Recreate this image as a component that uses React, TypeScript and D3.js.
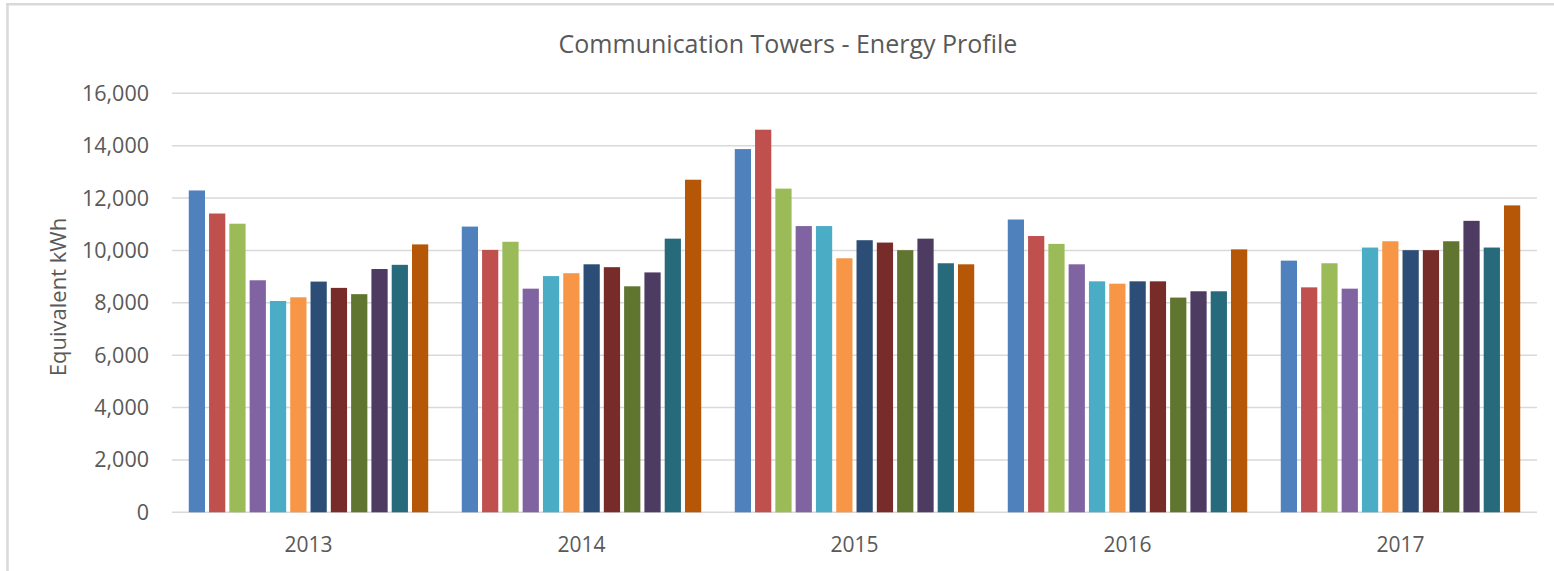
import React, { useEffect } from 'react'
import * as d3 from 'd3'

// years on the x axis, one cluster each
const years = ['2013', '2014', '2015', '2016', '2017']
// twelve bars per year (months)
const months = ['Jan', 'Feb', 'Mar', 'Apr', 'May', 'Jun', 'Jul', 'Aug', 'Sep', 'Oct', 'Nov', 'Dec']

const kwh2013 = [12290, 11410, 11020, 8860, 8070, 8210, 8810, 8570, 8330, 9290, 9450, 10230]
const kwh2014 = [10910, 10020, 10330, 8540, 9020, 9130, 9470, 9360, 8630, 9160, 10450, 12700]
const kwh2015 = [13870, 14610, 12360, 10930, 10930, 9700, 10390, 10300, 10010, 10450, 9510, 9470]
const kwh2016 = [11180, 10550, 10250, 9470, 8820, 8730, 8820, 8820, 8200, 8440, 8440, 10040]
const kwh2017 = [9610, 8590, 9510, 8540, 10110, 10350, 10010, 10010, 10350, 11130, 10110, 11720]

const yTicks = [0, 2000, 4000, 6000, 8000, 10000, 12000, 14000, 16000]

const colors = ['#4F81BD', '#C0504D', '#9BBB59', '#8064A2', '#4BACC6', '#F79646',
  '#2C4D75', '#772C2A', '#5F7530', '#4D3B62', '#276A7C', '#B65708']

const W = 1554
const H = 571
const left = 172
const right = 1537
const top = 93.3
const bottom = 512.3
const textColor = '#595959'
const font = '"Open Sans", sans-serif'

const App = () => {
  useEffect(() => {
    document.body.style.margin = '0'
  }, [])

  const rows = [kwh2013, kwh2014, kwh2015, kwh2016, kwh2017]

  const x0 = d3.scaleBand().domain(years).range([left, right]).paddingInner(0.108).paddingOuter(0.054)
  const x1 = d3.scaleBand().domain(months).range([0, x0.bandwidth()]).paddingInner(0.2).paddingOuter(0.1)
  const y = d3.scaleLinear().domain([0, 16000]).range([bottom, top])
  const fmt = d3.format(',')

  return (
    <svg width={W} height={H} style={{ position: 'absolute', left: 0, top: 0, background: '#fff' }}>
      {/* chart frame */}
      <line x1={7.5} x2={7.5} y1={3} y2={H} stroke="#d9d9d9" strokeWidth={2.5} />
      <line x1={6} x2={W} y1={4.3} y2={4.3} stroke="#d9d9d9" strokeWidth={2.5} />

      <text x={788} y={53} textAnchor="middle" fontFamily={font} fontSize={25} fill={textColor}>
        Communication Towers - Energy Profile
      </text>

      {/* gridlines */}
      <g>
        {yTicks.map(t => (
          <line key={t} x1={left} x2={right} y1={y(t)} y2={y(t)} stroke="#d9d9d9" strokeWidth={1.5} />
        ))}
      </g>
      <g fontFamily={font} fontSize={21.5} fill={textColor} textAnchor="end">
        {yTicks.map(t => (
          <text key={t} x={149} y={y(t)} dy="0.35em">{fmt(t)}</text>
        ))}
      </g>

      <text transform={`translate(66,297) rotate(-90)`} textAnchor="middle" fontFamily={font} fontSize={22} fill={textColor}>
        Equivalent kWh
      </text>

      {/* bars */}
      <g>
        {rows.map((vals, i) => (
          <g key={years[i]} transform={`translate(${x0(years[i])},0)`}>
            {vals.map((v, j) => (
              <rect key={months[j]} x={x1(months[j])} y={y(v)} width={x1.bandwidth()}
                height={y(0) - y(v)} fill={colors[j]} />
            ))}
          </g>
        ))}
      </g>

      <g fontFamily={font} fontSize={21} fill={textColor} textAnchor="middle">
        {years.map(yr => (
          <text key={yr} x={(x0(yr) ?? 0) + x0.bandwidth() / 2} y={552}>{yr}</text>
        ))}
      </g>
    </svg>
  )
}

export default App
